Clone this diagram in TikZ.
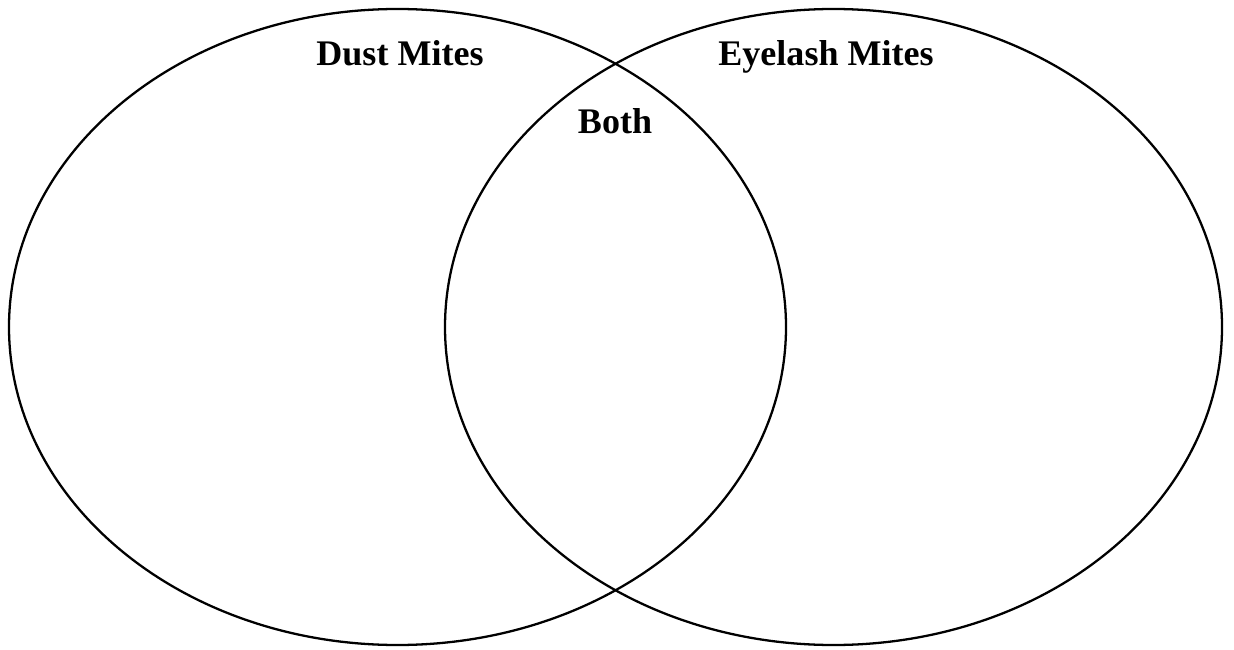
\documentclass[tikz,border=0pt]{standalone}
\usepackage{fontspec}
\setmainfont{Liberation Serif}
\usepackage{tikz}
\tikzset{
  venn/.style={draw=black,line width=1.3pt},
  setlabel/.style={font=\fontsize{20.5}{24}\selectfont\bfseries,inner sep=0pt,anchor=base}
}

\begin{document}
\begin{tikzpicture}
  \useasboundingbox (0,0) rectangle (24.68,12.98);
  % the two sets
  \draw[venn] (7.95,6.44) ellipse [x radius=7.77,y radius=6.36];
  \draw[venn] (16.67,6.44) ellipse [x radius=7.77,y radius=6.36];
  % labels
  \node[setlabel] (dust) at (8.00,11.66) {Dust Mites};
  \node[setlabel] (eyelash) at (16.52,11.66) {Eyelash Mites};
  \node[setlabel] (both) at (12.30,10.30) {Both};
\end{tikzpicture}
\end{document}
